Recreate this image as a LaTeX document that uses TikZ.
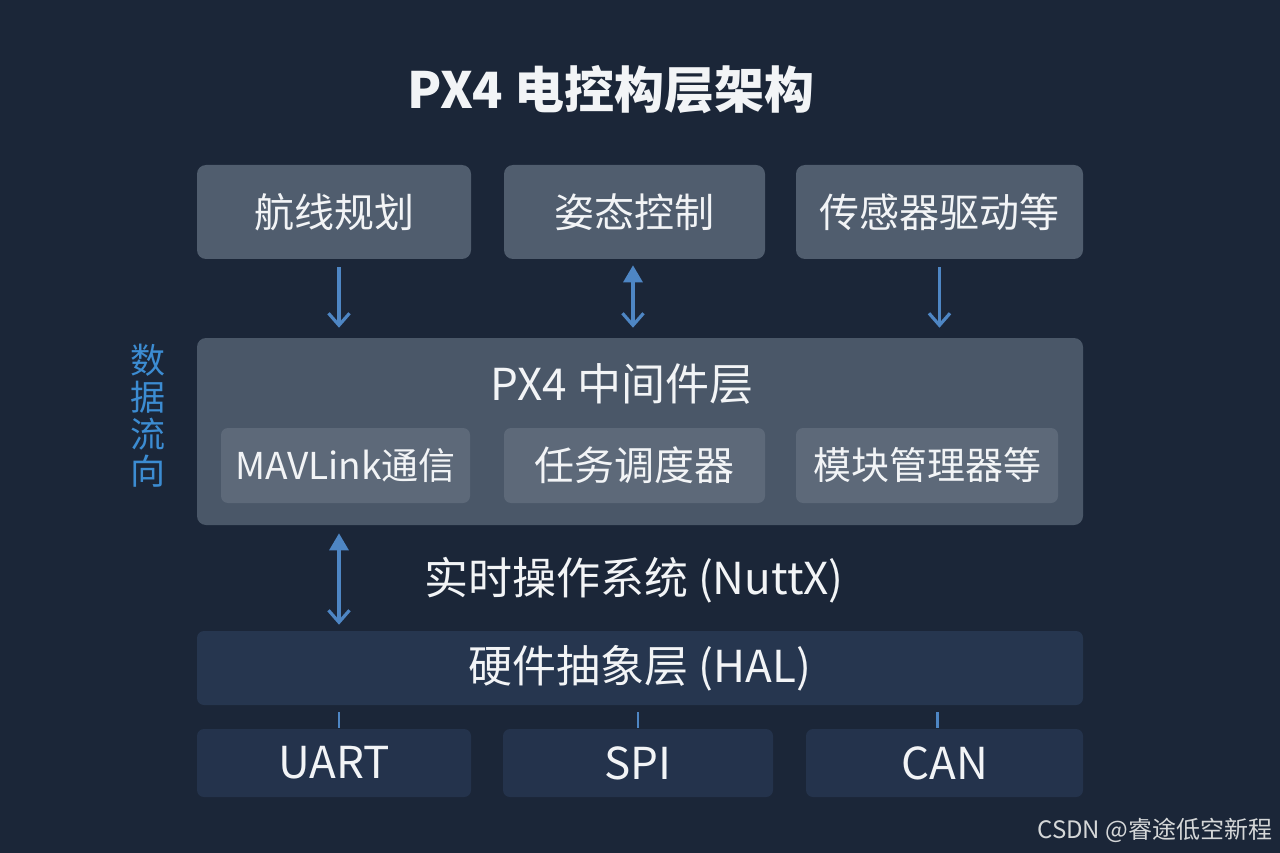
\documentclass[tikz,border=0pt]{standalone}
\usepackage{fontspec}
\newfontfamily\cjk{Noto Sans CJK SC}
\usepackage{tikz}
\usetikzlibrary{arrows.meta, shapes, calc}

\definecolor{bgnavy}{HTML}{1B2638}
\definecolor{topbox}{HTML}{505D6E}
\definecolor{midbox}{HTML}{4A5768}
\definecolor{innerbox}{HTML}{5D6979}
\definecolor{halbox}{HTML}{26364F}
\definecolor{busbox}{HTML}{24334C}
\definecolor{flowblue}{HTML}{4E86C4}
\definecolor{flowtext}{HTML}{3C8CD2}
\definecolor{lighttext}{HTML}{F2F4F6}

\begin{document}
\begin{tikzpicture}[x=1pt, y=-1pt, semithick,
  downtip/.tip={Straight Barb[length=12pt, width=21pt]},
  uptip/.tip={Triangle[length=17pt, width=19pt]},
  layer/.style={draw=none, rounded corners=9pt, inner sep=0pt, text=lighttext,
    font=\cjk\fontsize{40}{44}\selectfont},
  flow/.style={draw=flowblue, line width=3.2pt},
  tick/.style={draw=flowblue, line width=2.2pt}]

  % background and bounding box
  \fill[bgnavy] (0,0) rectangle (1280,853);
  \useasboundingbox (0,0) rectangle (1280,853);

  \node[text=lighttext, font=\cjk\bfseries\fontsize{50}{54}\selectfont] (title) at (611,90) {PX4 电控构层架构};

  % application layer
  \node[layer, fill=topbox, minimum width=274pt, minimum height=94pt] (route) at (334,212) {航线规划};
  \node[layer, fill=topbox, minimum width=261pt, minimum height=94pt] (attitude) at (634.5,212) {姿态控制};
  \node[layer, fill=topbox, minimum width=287pt, minimum height=94pt] (sensors) at (939.5,212) {传感器驱动等};

  % middleware
  \node[layer, fill=midbox, minimum width=886pt, minimum height=187pt] (middleware) at (640,431.5) {};
  \node[text=lighttext, font=\cjk\fontsize{44}{48}\selectfont] (mwtitle) at (622,384) {PX4 中间件层};
  \node[layer, fill=innerbox, rounded corners=7pt, minimum width=249pt, minimum height=75pt,
    font=\cjk\fontsize{37}{40}\selectfont] (mavlink) at (345.5,465.5) {MAVLink通信};
  \node[layer, fill=innerbox, rounded corners=7pt, minimum width=261pt, minimum height=75pt,
    font=\cjk\fontsize{40}{44}\selectfont] (scheduler) at (634.5,465.5) {任务调度器};
  \node[layer, fill=innerbox, rounded corners=7pt, minimum width=262pt, minimum height=75pt,
    font=\cjk\fontsize{38}{42}\selectfont] (modules) at (927,465.5) {模块管理器等};

  \node[text=flowtext, align=center, font=\cjk\fontsize{35}{37}\selectfont] (flowlabel) at (148,416) {数\\据\\流\\向};

  % rtos and hal
  \node[text=lighttext, font=\cjk\fontsize{44}{48}\selectfont] (rtos) at (634,580) {实时操作系统 (NuttX)};
  \node[layer, fill=halbox, rounded corners=7pt, minimum width=886pt, minimum height=74pt,
    font=\cjk\fontsize{44}{48}\selectfont] (hal) at (640,668) {硬件抽象层 (HAL)};

  % buses
  \node[layer, fill=busbox, rounded corners=7pt, minimum width=274pt, minimum height=68pt,
    font=\cjk\fontsize{44}{48}\selectfont] (uart) at (334,763) {UART};
  \node[layer, fill=busbox, rounded corners=7pt, minimum width=270pt, minimum height=68pt,
    font=\cjk\fontsize{44}{48}\selectfont] (spi) at (638,763) {SPI};
  \node[layer, fill=busbox, rounded corners=7pt, minimum width=277pt, minimum height=68pt,
    font=\cjk\fontsize{44}{48}\selectfont] (can) at (944.5,763) {CAN};

  \node[text=lighttext!75!gray, anchor=east, font=\cjk\fontsize{24}{26}\selectfont] (credit) at (1276,830) {CSDN @睿途低空新程};

  \draw[flow, -downtip, shorten <=8pt, shorten >=10pt] ([xshift=5pt]route.south) -- ([xshift=5pt]route.south |- middleware.north);
  \draw[flow, uptip-downtip, shorten <=6pt, shorten >=10pt] ([xshift=-1.5pt]attitude.south) -- ([xshift=-1.5pt]attitude.south |- middleware.north);
  \draw[flow, -downtip, shorten <=8pt, shorten >=10pt] (sensors.south) -- (sensors.south |- middleware.north);
  \draw[flow, uptip-downtip, shorten <=8pt, shorten >=6pt] ([xshift=5pt]route.south |- middleware.south) -- ([xshift=5pt]route.south |- hal.north);

  \draw[tick, shorten <=7pt, shorten >=1pt] ([xshift=5pt]uart.north |- hal.south) -- ([xshift=5pt]uart.north);
  \draw[tick, shorten <=7pt, shorten >=1pt] (spi.north |- hal.south) -- (spi.north);
  \draw[tick, shorten <=7pt, shorten >=1pt] ([xshift=-7pt]can.north |- hal.south) -- ([xshift=-7pt]can.north);
\end{tikzpicture}
\end{document}
